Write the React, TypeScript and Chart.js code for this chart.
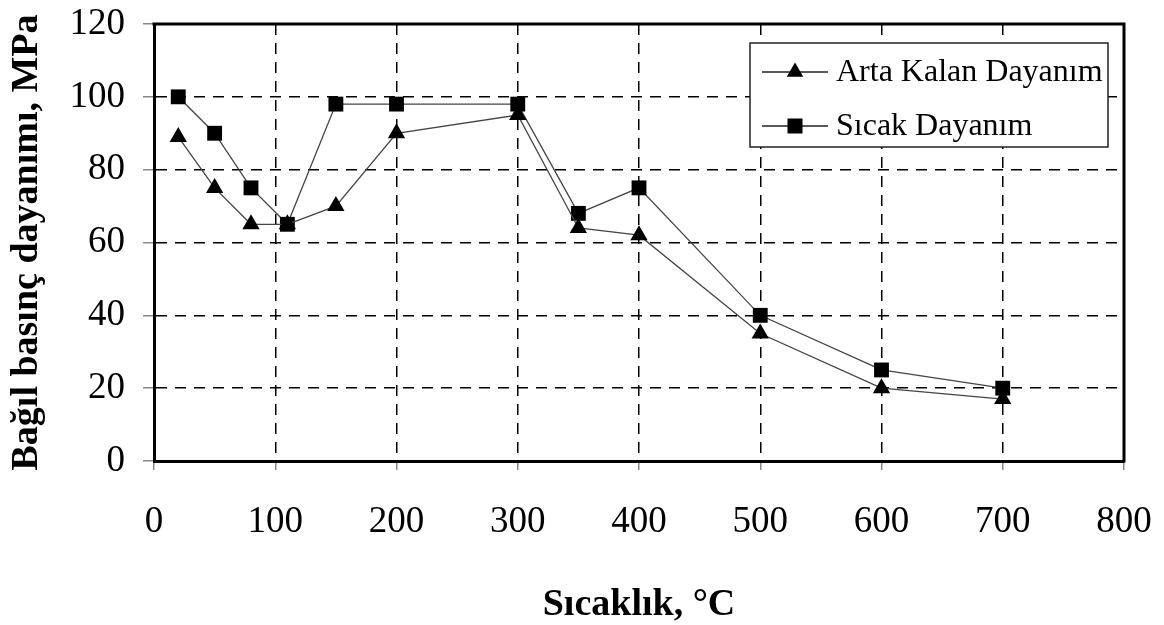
import React, { useEffect, useRef } from "react";
import { Chart, registerables } from "chart.js";

Chart.register(...registerables);

const temperatures = [20, 50, 80, 110, 150, 200, 300, 350, 400, 500, 600, 700];
const artaKalan = [89, 75, 65, 65, 70, 90, 95, 64, 62, 35, 20, 17];
const sicak = [100, 90, 75, 65, 98, 98, 98, 68, 75, 40, 25, 20];
const seriesLabels = ["Arta Kalan Dayanım", "Sıcak Dayanım"];
const xTitle = "Sıcaklık, °C";
const yTitle = "Bağıl basınç dayanımı, MPa";

const FONT = "'Liberation Serif', 'Times New Roman', serif";

const framePlugin = {
  id: "frameAndLegend",
  afterDraw(chart: any) {
    const { ctx, chartArea } = chart;
    ctx.save();
    ctx.strokeStyle = "#000";
    ctx.lineWidth = 3;
    ctx.beginPath();
    ctx.moveTo(chartArea.left - 1.5, chartArea.top);
    ctx.lineTo(chartArea.right, chartArea.top);
    ctx.lineTo(chartArea.right, chartArea.bottom + 1.5);
    ctx.stroke();

    // legend box
    const lx = chartArea.right - 374;
    const ly = chartArea.top + 19;
    const lw = 358;
    const lh = 104;
    ctx.fillStyle = "#fff";
    ctx.fillRect(lx, ly, lw, lh);
    ctx.lineWidth = 1.5;
    ctx.strokeStyle = "#222";
    ctx.strokeRect(lx, ly, lw, lh);
    const rows = [ly + 29, ly + 83];
    chart.data.datasets.forEach((ds: any, i: number) => {
      const y = rows[i];
      ctx.strokeStyle = "#222";
      ctx.lineWidth = 1.5;
      ctx.beginPath();
      ctx.moveTo(lx + 12, y);
      ctx.lineTo(lx + 78, y);
      ctx.stroke();
      ctx.fillStyle = "#000";
      const cx = lx + 45;
      if (ds.pointStyle === "triangle") {
        const r = 9.5;
        ctx.beginPath();
        ctx.moveTo(cx, y - r);
        ctx.lineTo(cx + r * 0.866, y + r * 0.5);
        ctx.lineTo(cx - r * 0.866, y + r * 0.5);
        ctx.closePath();
        ctx.fill();
      } else {
        const s = 7.5;
        ctx.fillRect(cx - s, y - s, 2 * s, 2 * s);
      }
      ctx.font = `32px ${FONT}`;
      ctx.textBaseline = "middle";
      ctx.textAlign = "left";
      ctx.fillText(ds.label, lx + 86, y + 1);
    });
    ctx.restore();
  },
};

export default function App() {
  const ref = useRef<HTMLCanvasElement>(null);
  useEffect(() => {
    if (!ref.current) return;
    const chart = new Chart(ref.current, {
      type: "line",
      data: {
        datasets: [
          {
            label: seriesLabels[0],
            data: temperatures.map((t, i) => ({ x: t, y: artaKalan[i] })),
            borderColor: "#444",
            borderWidth: 1.3,
            backgroundColor: "#000",
            pointStyle: "triangle",
            pointRadius: 10,
            pointBorderWidth: 0,
            pointBackgroundColor: "#000",
            tension: 0,
          },
          {
            label: seriesLabels[1],
            data: temperatures.map((t, i) => ({ x: t, y: sicak[i] })),
            borderColor: "#444",
            borderWidth: 1.3,
            backgroundColor: "#000",
            pointStyle: "rect",
            pointRadius: 10.5,
            pointBorderWidth: 0,
            pointBackgroundColor: "#000",
            tension: 0,
          },
        ],
      },
      options: {
        animation: false,
        responsive: false,
        maintainAspectRatio: false,
        layout: { padding: { left: 0, top: 24, right: 40, bottom: 0 } },
        plugins: {
          legend: { display: false },
          tooltip: { enabled: false },
        },
        scales: {
          x: {
            type: "linear",
            min: 0,
            max: 800,
            ticks: {
              stepSize: 100,
              color: "#000",
              font: { family: FONT, size: 37 },
              padding: 30,
              maxRotation: 0,
            },
            grid: {
              color: "#000",
              lineWidth: 1.5,
              tickColor: "#888",
              tickLength: 9,
              tickWidth: 1.5,
            },
            border: { display: true, color: "#000", width: 3, dash: [11, 8] },
            title: {
              display: true,
              text: xTitle,
              color: "#000",
              font: { family: FONT, size: 38, weight: "bold", lineHeight: 1 },
              padding: { top: 0, bottom: 1 },
            },
            afterFit: (s: any) => {
              s.height = 164;
              s.paddingLeft = 0;
              s.paddingRight = 0;
            },
          },
          y: {
            min: 0,
            max: 120,
            ticks: {
              stepSize: 20,
              color: "#000",
              font: { family: FONT, size: 37 },
              padding: 18,
            },
            grid: {
              color: "#000",
              lineWidth: 1.5,
              tickColor: "#888",
              tickLength: 11,
              tickWidth: 1.5,
            },
            border: { display: true, color: "#000", width: 3, dash: [11, 8] },
            title: {
              display: true,
              text: yTitle,
              color: "#000",
              font: { family: FONT, size: 38, weight: "bold" },
              padding: { top: 4, bottom: 0 },
            },
            afterFit: (s: any) => {
              s.width = 154;
              s.paddingTop = 0;
              s.paddingBottom = 0;
            },
          },
        },
      },
      plugins: [framePlugin],
    } as any);
    return () => chart.destroy();
  }, []);
  return (
    <div style={{ position: "absolute", left: 0, top: 0, width: 1164, height: 625, background: "#fff" }}>
      <canvas ref={ref} width={1164} height={625} style={{ display: "block", width: 1164, height: 625 }} />
    </div>
  );
}
